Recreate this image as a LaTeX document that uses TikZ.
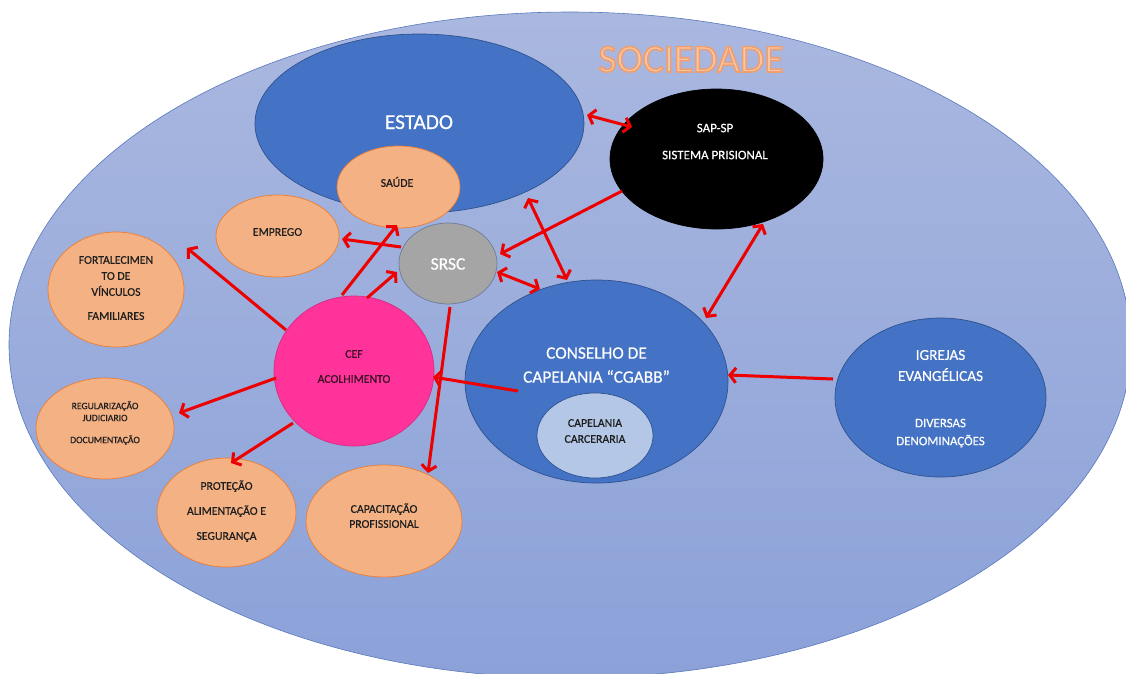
\documentclass[tikz,border=0pt]{standalone}
\usepackage{fontspec}
\setmainfont{Carlito}[FakeBold=0.5]
\newfontfamily\socfont{Carlito}
\usetikzlibrary{shapes.geometric,arrows.meta,calc}
\definecolor{socTop}{RGB}{170,184,224}
\definecolor{socBot}{RGB}{139,161,216}
\definecolor{socLine}{RGB}{90,120,190}
\definecolor{blueFill}{RGB}{68,114,196}
\definecolor{blueLine}{RGB}{47,82,143}
\definecolor{orFill}{RGB}{244,177,131}
\definecolor{orLine}{RGB}{237,125,49}
\definecolor{grFill}{RGB}{165,165,165}
\definecolor{grLine}{RGB}{110,125,150}
\definecolor{pinkFill}{RGB}{255,51,153}
\definecolor{lightBlue}{RGB}{180,199,231}
\definecolor{arrRed}{RGB}{238,0,0}
\definecolor{txtDark}{RGB}{30,30,30}
\definecolor{cefText}{RGB}{60,15,40}
\definecolor{socText}{RGB}{248,200,165}
\begin{document}
\begin{tikzpicture}[x=1pt,y=-1pt,
  blob/.style={ellipse, inner sep=0pt, line width=0.7pt},
  bluenode/.style={blob, fill=blueFill, draw=blueLine},
  ornode/.style={blob, fill=orFill, draw=orLine},
  lbl/.style={anchor=base, inner sep=0pt, align=center},
  small/.style={lbl, font=\fontsize{11.8}{14}\selectfont, text=txtDark},
  wsmall/.style={lbl, font=\fontsize{13}{15}\selectfont, text=white},
  arr/.style={draw=arrRed, line width=3pt, -{Straight Barb[length=6pt,width=15pt]}},
  darr/.style={draw=arrRed, line width=3pt, {Straight Barb[length=6pt,width=15pt]}-{Straight Barb[length=6pt,width=15pt]}}
]
\useasboundingbox (0,0) rectangle (1126,673);
\fill[white] (0,0) rectangle (1126,673);
\clip (0,0) rectangle (1126,673);

% outer society ellipse
\node[blob, minimum width=1122pt, minimum height=666pt, top color=socTop, bottom color=socBot, draw=socLine, line width=0.6pt] (soc) at (570,345) {};

% main nodes
\node[bluenode, minimum width=329pt, minimum height=179pt] (estado) at (419.5,123.5) {};
\node[blob, fill=black, draw=black, minimum width=213pt, minimum height=140pt] (sap) at (716.5,159) {};
\node[bluenode, minimum width=263pt, minimum height=203pt] (cons) at (596.5,381.5) {};
\node[blob, fill=lightBlue, draw=blueLine, minimum width=116pt, minimum height=85pt] (carc) at (595,435.5) {};
\node[bluenode, minimum width=211pt, minimum height=159pt] (igr) at (940.5,397.5) {};

\node[ornode, minimum width=123pt, minimum height=82pt] (emp) at (277.5,236) {};
\node[ornode, minimum width=123pt, minimum height=82pt] (saude) at (398.5,187) {};
\node[ornode, minimum width=136pt, minimum height=115pt] (fort) at (116,289.5) {};
\node[ornode, minimum width=138pt, minimum height=101pt] (reg) at (105,428.5) {};
\node[ornode, minimum width=139pt, minimum height=109pt] (prot) at (226.5,512.5) {};
\node[ornode, minimum width=156pt, minimum height=112pt] (cap) at (384,521) {};
\node[blob, fill=grFill, draw=grLine, minimum width=98pt, minimum height=81pt] (srsc) at (448,263.5) {};
\node[blob, fill=pinkFill, draw=pinkFill!85!black, minimum width=160pt, minimum height=150pt] (cef) at (354,371) {};

% arrows
\draw[darr] ($(estado)+(167.5,-8.5)$) -- ($(sap)+(-84.5,-32)$);
\draw[arr]  ($(sap)+(-94.5,32)$) -- ($(srsc)+(52,-9.5)$);
\draw[darr] ($(estado)+(108.5,74.5)$) -- ($(cons)+(-29.5,-101.5)$);
\draw[darr] ($(srsc)+(49,8.5)$) -- ($(cons)+(-56.5,-92.5)$);
\draw[darr] ($(sap)+(46.5,65)$) -- ($(cons)+(109.5,-63.5)$);
\draw[arr]  ($(igr)+(-107.5,-18.5)$) -- ($(cons)+(131.5,-6.5)$);
\draw[arr]  ($(cons)+(-78.5,9.5)$) -- ($(cef)+(79,6)$);
\draw[arr]  ($(srsc)+(2,43.5)$) -- ($(cap)+(44,-48)$);
\draw[arr]  ($(srsc)+(-47,-16.5)$) -- ($(emp)+(64.5,3)$);
\draw[arr]  ($(cef)+(-12,-76)$) -- ($(saude)+(-1.5,38)$);
\draw[arr]  ($(cef)+(13,-73)$) -- ($(srsc)+(-51,8.5)$);
\draw[arr]  ($(cef)+(-68,-41)$) -- ($(fort)+(71,-41.5)$);
\draw[arr]  ($(cef)+(-78,7)$) -- ($(reg)+(74,-15.5)$);
\draw[arr]  ($(cef)+(-61,52)$) -- ($(prot)+(4.5,-49.5)$);

% texts
\node[lbl, font=\socfont\fontsize{39.6}{44}\selectfont, text=socText] (tsoc) at (691,72) {\special{pdf:literal direct 2 Tr 1.6 w 0.94 0.62 0.44 RG}SOCIEDADE\special{pdf:literal direct 0 Tr}};
\node[lbl, font=\fontsize{21.3}{24}\selectfont, text=white] (test) at (419,129) {ESTADO};
\node[wsmall] (tsap1) at (715,132.2) {SAP-SP};
\node[wsmall] (tsap2) at (715,159.2) {SISTEMA PRISIONAL};
\node[small] (tsau) at (397,186.8) {SAÚDE};
\node[small] (temp) at (277.5,235.8) {EMPREGO};
\node[lbl, font=\fontsize{17.5}{20}\selectfont, text=white] (tsrsc) at (448,269.6) {SRSC};
\node[small] (tf1) at (116,263.8) {FORTALECIMEN};
\node[small] (tf2) at (116,279.8) {TO DE};
\node[small] (tf3) at (116,295.8) {VÍNCULOS};
\node[small] (tf4) at (116,319.8) {FAMILIARES};
\node[small, text=cefText] (tc1) at (354,357.8) {CEF};
\node[small, text=cefText] (tc2) at (354,382.8) {ACOLHIMENTO};
\node[lbl, font=\fontsize{9.7}{12}\selectfont, text=txtDark] (tr1) at (105,409.1) {REGULARIZAÇÃO};
\node[lbl, font=\fontsize{9.7}{12}\selectfont, text=txtDark] (tr2) at (105,421.1) {JUDICIARIO};
\node[lbl, font=\fontsize{9.7}{12}\selectfont, text=txtDark] (tr3) at (105,443.1) {DOCUMENTAÇÃO};
\node[small] (tp1) at (226.5,489.8) {PROTEÇÃO};
\node[small] (tp2) at (226.5,514.8) {ALIMENTAÇÃO E};
\node[small] (tp3) at (226.5,539.8) {SEGURANÇA};
\node[small] (tcap1) at (384,512.8) {CAPACITAÇÃO};
\node[small] (tcap2) at (384,527.8) {PROFISSIONAL};
\node[lbl, font=\fontsize{17.3}{20}\selectfont, text=white] (tcon1) at (596.5,358.6) {CONSELHO DE};
\node[lbl, font=\fontsize{17.3}{20}\selectfont, text=white] (tcon2) at (596.5,382.6) {CAPELANIA “CGABB”};
\node[small] (tcar1) at (595,426.8) {CAPELANIA};
\node[small] (tcar2) at (595,442.8) {CARCERARIA};
\node[lbl, font=\fontsize{15.2}{18}\selectfont, text=white] (tig1) at (940.5,359.9) {IGREJAS};
\node[lbl, font=\fontsize{15.2}{18}\selectfont, text=white] (tig2) at (940.5,380.9) {EVANGÉLICAS};
\node[lbl, font=\fontsize{12.9}{15}\selectfont, text=white] (tig3) at (940.5,427.2) {DIVERSAS};
\node[lbl, font=\fontsize{12.9}{15}\selectfont, text=white] (tig4) at (940.5,445.2) {DENOMINAÇÕES};
\end{tikzpicture}
\end{document}
